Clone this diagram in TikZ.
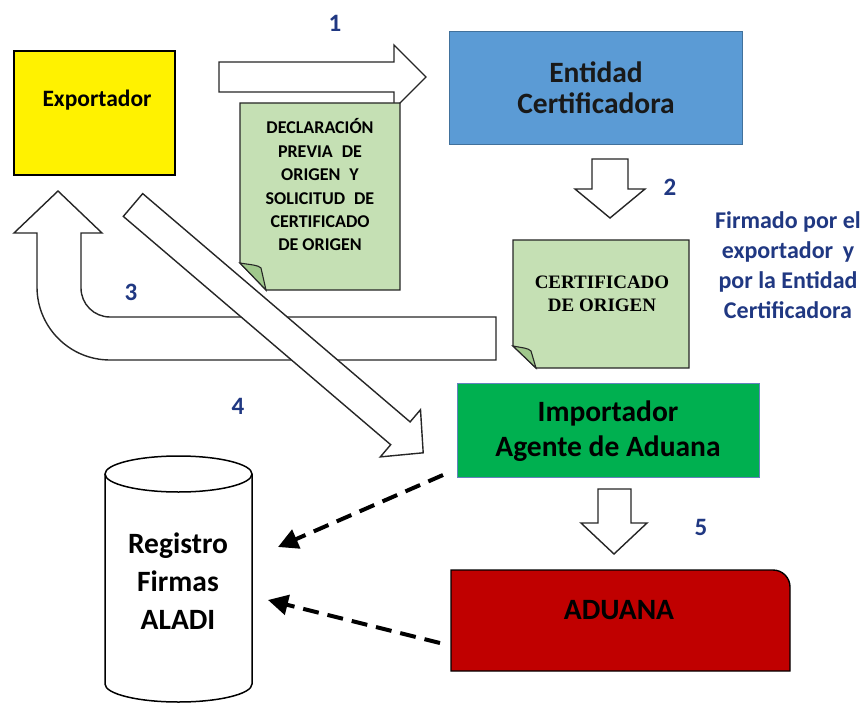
\documentclass[tikz,border=0pt]{standalone}
\usepackage{fontspec}
\setmainfont{Carlito}
\newfontfamily\serifbold{Liberation Serif}
\usetikzlibrary{arrows.meta}
\definecolor{numblue}{RGB}{32,56,130}
\definecolor{entblue}{RGB}{91,155,213}
\definecolor{entborder}{RGB}{65,113,156}
\definecolor{impgreen}{RGB}{0,176,80}
\definecolor{impborder}{RGB}{100,130,190}
\definecolor{adured}{RGB}{192,0,0}
\definecolor{docgreen}{RGB}{197,224,180}
\definecolor{folddark}{RGB}{160,200,140}
\tikzset{
  blockarrow/.style={draw=black!85, line width=1.4pt, fill=white, line join=miter},
  numlbl/.style={font=\bfseries\fontsize{25}{25}\selectfont, text=numblue, inner sep=0pt},
  boxtext/.style={font=\bfseries\fontsize{29.5}{33}\selectfont, align=center, inner sep=0pt},
  docshape/.style={draw=black!85, line width=1.3pt, fill=docgreen, line join=miter},
  foldshape/.style={draw=black!85, line width=1.1pt, fill=folddark},
  dasharrow/.style={line width=4pt, dash pattern=on 16pt off 9pt, -{Triangle[length=20pt,width=20pt]}}
}
\begin{document}
\begin{tikzpicture}[x=1pt,y=-1pt]
\useasboundingbox (0,0) rectangle (864,703);

% Exportador
\node[draw=black, line width=1.4pt, fill=yellow, minimum width=161pt, minimum height=124pt, inner sep=0pt] (exp) at (94.5,113) {};
\node[font=\bfseries\fontsize{23.5}{26}\selectfont, inner sep=0pt] (expt) at (97,100) {Exportador};

% Entidad Certificadora
\node[draw=entborder, line width=1pt, fill=entblue, minimum width=293pt, minimum height=113pt, inner sep=0pt] (ent) at (595.5,88.5) {};
\node[boxtext, font=\bfseries\fontsize{29.5}{31}\selectfont, text=black!90] (entt) at (596,88) {Entidad\\Certificadora};

% Arrow 1
\draw[blockarrow] (219,62) -- (394,62) -- (394,45) -- (426,77) -- (394,109) -- (394,92) -- (219,92) -- cycle;
\node[numlbl] (n1) at (335,23) {1};

% Document 1
\draw[docshape] (240,103) -- (400,103) -- (400,290) -- (266,290) -- (240,263) -- cycle;
\draw[foldshape] (240,263) .. controls (252,265) and (258,265) .. (261,268) -- (266,290) -- cycle;
\node[font=\bfseries\fontsize{18}{23.4}\selectfont, align=center, inner sep=0pt] (doc1) at (320,185) {DECLARACIÓN\\PREVIA\hspace{0.5em}DE\\ORIGEN\hspace{0.5em}Y\\SOLICITUD\hspace{0.5em}DE\\CERTIFICADO\\DE ORIGEN};

% Arrow 2
\draw[blockarrow] (592,159) -- (628,159) -- (628,189) -- (645,189) -- (610,218) -- (575,189) -- (592,189) -- cycle;
\node[numlbl] (n2) at (670,187) {2};

% Firmado text
\node[font=\bfseries\fontsize{24}{30}\selectfont, text=numblue, align=center, inner sep=0pt] (firm) at (788,265) {Firmado por el\\exportador\hspace{0.4em}y\\por la Entidad\\Certificadora};

% Arrow 3 (U-turn)
\draw[blockarrow] (58,191) -- (102,233) -- (81,233) -- (81,288)
  arc[start angle=180, end angle=90, radius=29] -- (496,317) -- (496,360) -- (110,360)
  arc[start angle=90, end angle=180, radius=73] -- (37,233) -- (14,233) -- cycle;
\node[numlbl] (n3) at (131,292) {3};

% Document 2
\draw[docshape] (513,240) -- (689,240) -- (689,368) -- (536,368) -- (513,346) -- cycle;
\draw[foldshape] (513,346) .. controls (523,348) and (528,348) .. (531,351) -- (536,368) -- cycle;
\node[font=\serifbold\bfseries\fontsize{19}{23}\selectfont, align=center, inner sep=0pt] (doc2) at (602,294) {CERTIFICADO\\DE ORIGEN};

% Arrow 4 (diagonal)
\draw[blockarrow] (142.7,193.6) -- (410.1,421.9) -- (420.5,409.7) -- (423.2,452.8) -- (380.3,456.9) -- (390.7,444.7) -- (123.3,216.4) -- cycle;
\node[numlbl] (n4) at (238,406) {4};

% Importador
\node[draw=impborder, line width=1pt, fill=impgreen, minimum width=302pt, minimum height=94pt, inner sep=0pt] (imp) at (608,430) {};
\node[boxtext, font=\bfseries\fontsize{29.5}{35}\selectfont] (impt) at (608,431) {Importador\\Agente de Aduana};

% Arrow 5
\draw[blockarrow] (598,489) -- (631,489) -- (631,523) -- (647,523) -- (614,554) -- (581,523) -- (598,523) -- cycle;
\node[numlbl] (n5) at (701,527) {5};

% ADUANA
\draw[draw=black, line width=1.4pt, fill=adured] (451,671) -- (451,570) -- (773,570) arc[start angle=-90, end angle=0, radius=17] -- (790,671) -- cycle;
\node[boxtext] (adu) at (619,610) {ADUANA};

% Cylinder
\draw[line width=1.5pt, fill=white] (105,474) -- (105,684) arc[start angle=180, end angle=0, x radius=73.5, y radius=18] -- (252,474);
\draw[line width=1.5pt] (178.5,474) ellipse [x radius=73.5, y radius=18];
\node[boxtext, font=\bfseries\fontsize{29.5}{38}\selectfont] (reg) at (178,581) {Registro\\Firmas\\ALADI};

% Dashed arrows
\coordinate (ds1) at (443,475);
\coordinate (de1) at (278,547);
\coordinate (ds2) at (440,643);
\coordinate (de2) at (268,600);
\draw[dasharrow] (ds1) -- (de1);
\draw[dasharrow] (ds2) -- (de2);
\end{tikzpicture}
\end{document}
